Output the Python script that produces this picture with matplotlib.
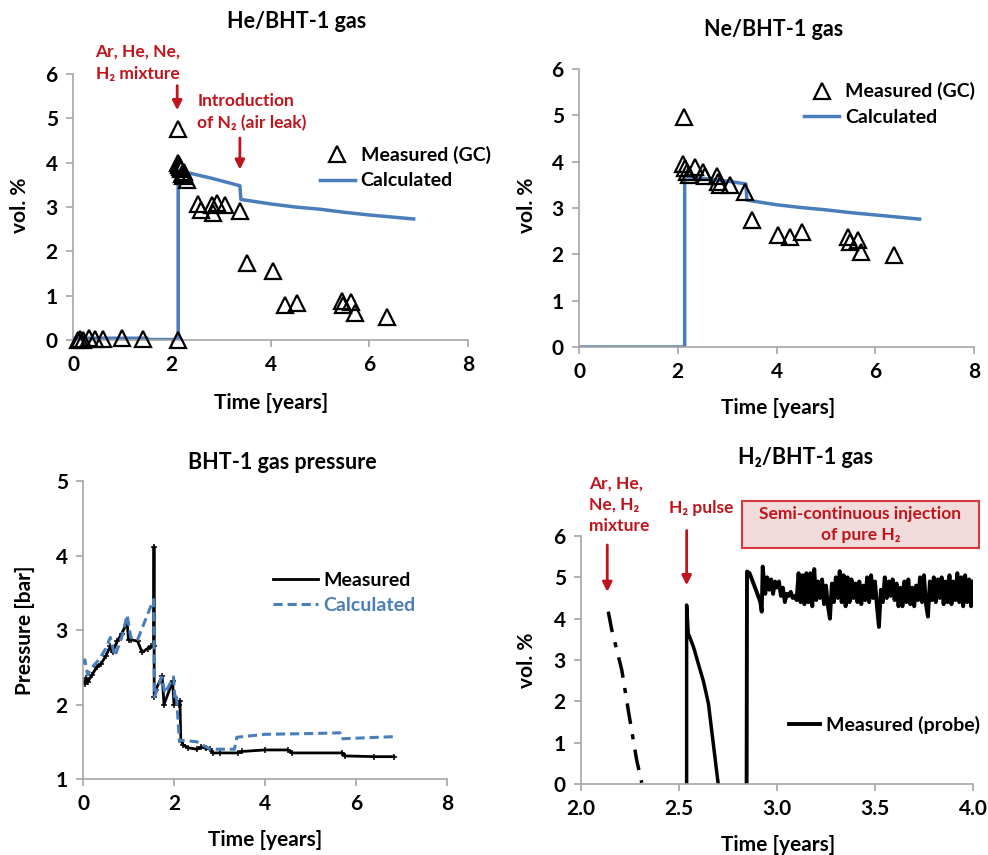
import matplotlib

matplotlib.use("Agg")
import matplotlib.pyplot as plt
from matplotlib.patches import Rectangle
from matplotlib.lines import Line2D

plt.rcParams["font.family"] = ["Lato", "Noto Sans", "DejaVu Sans"]
plt.rcParams["font.weight"] = "bold"

BLUE = "#4a7ebb"
RED = "#c0141c"
GREY = "#a6a6a6"

# --- He/BHT-1: measured (GC) and calculated ---
he_t = [0.10, 0.15, 0.20, 0.33, 0.45, 0.60, 1.00, 1.42, 2.13, 2.13, 2.12, 2.14, 2.16,
        2.18, 2.20, 2.22, 2.25, 2.30, 2.54, 2.60, 2.81, 2.84, 2.91, 3.08, 3.38, 3.52,
        4.05, 4.29, 4.53, 5.44, 5.46, 5.64, 5.71, 6.35]
he_v = [0.00, 0.02, 0.00, 0.05, 0.03, 0.02, 0.04, 0.02, 0.00, 4.75, 4.00, 3.95, 3.90,
        3.85, 3.75, 3.70, 3.78, 3.60, 3.07, 2.93, 3.05, 2.86, 3.09, 3.05, 2.92, 1.73,
        1.55, 0.79, 0.83, 0.88, 0.79, 0.86, 0.60, 0.52]
he_calc_t = [0.0, 1.5, 1.55, 2.13, 2.13, 2.3, 2.8, 3.38, 3.40, 4.0, 4.5, 5.0, 5.5, 6.0, 6.5, 6.9]
he_calc_v = [0.04, 0.04, 0.01, 0.01, 3.82, 3.78, 3.65, 3.48, 3.17, 3.07, 3.00, 2.95, 2.88,
             2.82, 2.77, 2.73]

# --- Ne/BHT-1 ---
ne_t = [2.13, 2.11, 2.15, 2.18, 2.23, 2.35, 2.52, 2.55, 2.79, 2.82, 2.85, 3.06, 3.36,
        3.50, 4.03, 4.27, 4.51, 5.45, 5.49, 5.65, 5.72, 6.37]
ne_v = [4.97, 3.96, 3.86, 3.78, 3.71, 3.89, 3.78, 3.68, 3.68, 3.57, 3.50, 3.50, 3.35,
        2.74, 2.42, 2.38, 2.49, 2.38, 2.27, 2.31, 2.06, 1.99]
ne_calc_t = [0.0, 2.14, 2.14, 2.5, 3.0, 3.38, 3.40, 4.0, 4.5, 5.0, 5.5, 6.0, 6.5, 6.9]
ne_calc_v = [0.0, 0.0, 3.68, 3.64, 3.58, 3.52, 3.17, 3.07, 3.01, 2.96, 2.90, 2.85, 2.80, 2.76]

# --- BHT-1 gas pressure ---
p_meas_t = [0.02, 0.05, 0.07, 0.10, 0.20, 0.30, 0.40, 0.50, 0.60, 0.65, 0.75, 0.85, 0.97,
            1.00, 1.05, 1.20, 1.30, 1.42, 1.50, 1.555, 1.56, 1.565, 1.60, 1.74, 1.78, 1.97,
            2.00, 2.05, 2.10, 2.13, 2.15, 2.20, 2.30, 2.50, 2.60, 2.70, 2.80, 2.85, 3.00,
            3.40, 3.50, 4.00, 4.50, 4.60, 5.70, 5.75, 6.40, 6.83]
p_meas_v = [2.30, 2.28, 2.35, 2.30, 2.40, 2.50, 2.55, 2.65, 2.78, 2.70, 2.85, 2.95, 3.10,
            2.87, 2.87, 2.85, 2.70, 2.75, 2.78, 2.78, 4.12, 2.10, 2.20, 2.38, 2.00, 2.31,
            2.00, 2.05, 2.00, 2.05, 1.52, 1.46, 1.42, 1.40, 1.43, 1.41, 1.40, 1.35, 1.35,
            1.35, 1.37, 1.39, 1.39, 1.35, 1.35, 1.31, 1.30, 1.30]
p_calc_t = [0.02, 0.04, 0.10, 0.20, 0.35, 0.50, 0.60, 0.70, 0.85, 0.97, 1.05, 1.20, 1.55,
            1.57, 1.73, 1.80, 1.99, 2.02, 2.05, 2.12, 2.15, 2.50, 2.80, 3.33, 3.38, 4.00,
            5.00, 5.65, 5.68, 6.90]
p_calc_v = [2.55, 2.60, 2.40, 2.50, 2.60, 2.75, 2.90, 2.65, 2.90, 3.20, 2.90, 2.87, 3.41,
            2.10, 2.37, 2.15, 2.37, 2.10, 2.15, 1.50, 1.52, 1.50, 1.40, 1.40, 1.56, 1.60,
            1.61, 1.62, 1.54, 1.57]

# --- H2/BHT-1 probe ---
h2_mix_t = [2.139, 2.157, 2.208, 2.241, 2.284, 2.310]
h2_mix_v = [4.17, 3.73, 2.76, 1.79, 0.58, 0.03]
h2_pulse_t = [2.539, 2.539, 2.547, 2.575, 2.598, 2.625, 2.650, 2.700]
h2_pulse_v = [0.00, 4.33, 3.65, 3.30, 2.92, 2.48, 1.95, 0.00]
h2_inj_t = [2.845, 2.847, 2.86, 2.88, 2.90, 2.915, 2.922, 2.927,
            2.94, 2.95, 2.96, 2.97, 2.98, 2.99, 3.00, 3.01, 3.02, 3.03, 3.04, 3.05, 3.06,
            3.07, 3.08, 3.09, 3.10, 3.11, 3.12, 3.13, 3.14, 3.15, 3.16, 3.17, 3.18, 3.19,
            3.20, 3.21, 3.22, 3.23, 3.24, 3.25, 3.26, 3.27, 3.28, 3.29, 3.30, 3.31, 3.32,
            3.33, 3.34, 3.35, 3.36, 3.37, 3.38, 3.39, 3.40, 3.41, 3.42, 3.43, 3.44, 3.45,
            3.46, 3.47, 3.48, 3.49, 3.50, 3.51, 3.52, 3.53, 3.54, 3.55, 3.56, 3.57, 3.58,
            3.59, 3.60, 3.61, 3.62, 3.63, 3.64, 3.65, 3.66, 3.67, 3.68, 3.69, 3.70, 3.71,
            3.72, 3.73, 3.74, 3.75, 3.76, 3.77, 3.78, 3.79, 3.80, 3.81, 3.82, 3.83, 3.84,
            3.85, 3.86, 3.87, 3.88, 3.89, 3.90, 3.91, 3.92, 3.93, 3.94, 3.95, 3.96, 3.97,
            3.98, 3.99, 4.00]
h2_inj_v = [0.00, 5.14, 5.10, 4.85, 4.60, 4.40, 4.17, 5.26,
            4.60, 5.00, 4.70, 4.95, 4.60, 4.90, 4.75, 4.90, 4.55, 4.75, 4.40, 4.60, 4.55,
            4.65, 4.50, 4.55, 4.45, 5.10, 4.40, 5.05, 4.35, 5.10, 4.40, 5.10, 4.30, 5.20,
            4.45, 4.90, 4.50, 4.95, 4.35, 4.80, 4.30, 4.00, 4.85, 4.40, 5.00, 4.50, 5.15,
            4.40, 5.05, 4.30, 5.00, 4.40, 4.95, 4.50, 4.85, 4.40, 4.90, 4.35, 4.80, 4.45,
            5.00, 4.40, 5.05, 4.50, 4.90, 4.30, 3.80, 4.70, 4.40, 5.00, 4.50, 4.90, 4.55,
            4.95, 4.45, 4.85, 4.30, 4.75, 4.30, 4.90, 4.40, 4.95, 4.35, 4.75, 4.30, 4.80,
            4.45, 5.00, 4.40, 5.05, 4.35, 4.05, 4.90, 4.45, 5.00, 4.40, 4.95, 4.50, 5.00,
            4.35, 4.90, 4.40, 5.05, 4.35, 4.90, 4.45, 5.10, 4.40, 5.00, 4.30, 5.05, 4.40,
            4.95, 4.30, 4.90]

W, H = 988, 855
fig = plt.figure(figsize=(W / 100, H / 100), dpi=100)


def box(left, top, right, bottom):
    return [left / W, 1 - bottom / H, (right - left) / W, (bottom - top) / H]


def ftext(x, y, s, **kw):
    fig.text(x / W, 1 - y / H, s, ha="center", va="center", **kw)


def excel_axes(rect, xlim, ylim, xticks, yticks, xfmt="{:g}"):
    ax = fig.add_axes(rect)
    ax.set_xlim(*xlim)
    ax.set_ylim(*ylim)
    ax.set_xticks(xticks)
    ax.set_yticks(yticks)
    ax.set_xticklabels([xfmt.format(v) for v in xticks])
    for s in ("top", "right"):
        ax.spines[s].set_visible(False)
    for s in ("left", "bottom"):
        ax.spines[s].set_color(GREY)
        ax.spines[s].set_linewidth(1.2)
    ax.tick_params(colors=GREY, labelcolor="black", labelsize=15, length=5, width=1.2, pad=6)
    for lab in ax.get_xticklabels() + ax.get_yticklabels():
        lab.set_fontweight("bold")
    return ax


TICK8 = [0, 2, 4, 6, 8]
tri = dict(marker="^", ms=11, mfc="none", mec="black", mew=1.6, ls="none")
LEG = dict(size=14, weight="bold")

# He panel
ax1 = excel_axes(box(73, 74, 468, 340), (0, 8), (0, 6), TICK8, range(7))
ax1.plot(he_calc_t, he_calc_v, color=BLUE, lw=2.5, zorder=2)
ax1.plot(he_t, he_v, zorder=3, clip_on=False, **tri)
ftext(297, 22, "He/BHT-1 gas", fontsize=15.5, fontweight="bold")
ftext(20, 205, "vol. %", fontsize=15, fontweight="bold", rotation=90)
ftext(271, 403, "Time [years]", fontsize=15, fontweight="bold")
ax1.annotate("", xy=(2.11, 5.12), xytext=(2.11, 5.8), annotation_clip=False,
             arrowprops=dict(arrowstyle="-|>", color=RED, lw=2, mutation_scale=14))
ax1.text(1.31, 6.25, "Ar, He, Ne,\nH\u2082 mixture", color=RED, fontsize=12.5,
         fontweight="bold", ha="center", va="center", linespacing=1.45, clip_on=False)
ax1.annotate("", xy=(3.38, 3.78), xytext=(3.38, 4.62), annotation_clip=False,
             arrowprops=dict(arrowstyle="-|>", color=RED, lw=2, mutation_scale=14))
ax1.text(2.52, 5.15, "Introduction\nof N\u2082 (air leak)", color=RED, fontsize=12.5,
         fontweight="bold", ha="left", va="center", linespacing=1.45)
ax1.legend([Line2D([], [], **tri), Line2D([], [], color=BLUE, lw=2.5)],
           ["Measured (GC)", "Calculated"], loc="upper left", bbox_to_anchor=(0.605, 0.76),
           frameon=False, prop=LEG, handlelength=1.8,
           handletextpad=0.3, labelspacing=0.45, borderaxespad=0)

# Ne panel
ax2 = excel_axes(box(579, 69, 974, 347), (0, 8), (0, 6), TICK8, range(7))
ax2.plot(ne_calc_t, ne_calc_v, color=BLUE, lw=2.5, zorder=2)
ax2.plot(ne_t, ne_v, zorder=3, clip_on=False, **tri)
ftext(774, 30, "Ne/BHT-1 gas", fontsize=15.5, fontweight="bold")
ftext(527, 205, "vol. %", fontsize=15, fontweight="bold", rotation=90)
ftext(778, 408, "Time [years]", fontsize=15, fontweight="bold")
ax2.legend([Line2D([], [], **tri), Line2D([], [], color=BLUE, lw=2.5)],
           ["Measured (GC)", "Calculated"], loc="upper left", bbox_to_anchor=(0.55, 0.98),
           frameon=False, prop=LEG, handlelength=1.8,
           handletextpad=0.3, labelspacing=0.45, borderaxespad=0)

# Pressure panel
ax3 = excel_axes(box(83, 481, 447, 779), (0, 8), (1, 5), TICK8, range(1, 6))
ax3.plot(p_meas_t, p_meas_v, color="black", lw=2, marker="+", ms=4.5, mew=1.1,
         label="Measured", zorder=2)
ax3.plot(p_calc_t, p_calc_v, color=BLUE, lw=2.2, ls=(0, (3, 1.6)), label="Calculated",
         zorder=3)
ftext(282, 462, "BHT-1 gas pressure", fontsize=15.5, fontweight="bold")
ftext(25, 630, "Pressure [bar]", fontsize=15, fontweight="bold", rotation=90)
ftext(265, 840, "Time [years]", fontsize=15, fontweight="bold")
leg3 = ax3.legend([Line2D([], [], color="black", lw=2),
                   Line2D([], [], color=BLUE, lw=2.2, ls=(0, (3, 1.6)))],
                  ["Measured", "Calculated"], loc="upper left",
                  bbox_to_anchor=(0.5, 0.72), frameon=False,
                  prop=LEG, handlelength=2.3,
                  handletextpad=0.3, labelspacing=0.4, borderaxespad=0)
leg3.get_texts()[1].set_color(BLUE)

# H2 panel
ax4 = excel_axes(box(581, 536, 973, 784), (2.0, 4.0), (0, 6), [2.0, 2.5, 3.0, 3.5, 4.0],
                 range(7), xfmt="{:.1f}")
ax4.plot(h2_mix_t, h2_mix_v, color="black", lw=2.5, ls=(0, (6, 3, 1.5, 3)))
ax4.plot(h2_pulse_t, h2_pulse_v, color="black", lw=2.5)
ax4.plot(h2_inj_t, h2_inj_v, color="black", lw=2.8, label="Measured (probe)")
ftext(806, 457, "H\u2082/BHT-1 gas", fontsize=15.5, fontweight="bold")
ftext(527, 660, "vol. %", fontsize=15, fontweight="bold", rotation=90)
ftext(778, 845, "Time [years]", fontsize=15, fontweight="bold")
ax4.legend(loc="lower left", bbox_to_anchor=(0.51, 0.17), frameon=False,
           prop=LEG, handlelength=1.6, handletextpad=0.3,
           borderaxespad=0)
ax4.annotate("", xy=(2.134, 4.58), xytext=(2.134, 5.85), annotation_clip=False,
             arrowprops=dict(arrowstyle="-|>", color=RED, lw=2, mutation_scale=14))
ax4.text(2.04, 6.75, "Ar, He,\nNe, H\u2082\nmixture", color=RED, fontsize=12.5,
         fontweight="bold", ha="left", va="center", linespacing=1.4, clip_on=False)
ax4.annotate("", xy=(2.539, 4.74), xytext=(2.539, 6.2), annotation_clip=False,
             arrowprops=dict(arrowstyle="-|>", color=RED, lw=2, mutation_scale=14))
ax4.text(2.449, 6.68, "H\u2082 pulse", color=RED, fontsize=12.5, fontweight="bold",
         ha="left", va="center", clip_on=False)
ax4.add_patch(Rectangle((2.821, 5.71), 1.209, 1.14, facecolor="#f2dcdb", edgecolor="#d9383e",
                        lw=1.5, clip_on=False, zorder=4))
ax4.text(3.425, 6.28, "Semi-continuous injection\nof pure H\u2082", color=RED, fontsize=12.5,
         fontweight="bold", ha="center", va="center", linespacing=1.45, zorder=5,
         clip_on=False)

fig.savefig("out.png", dpi=100)
